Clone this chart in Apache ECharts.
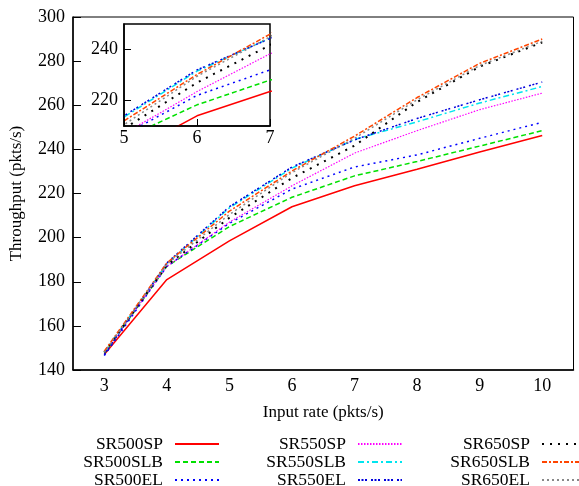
<!DOCTYPE html>
<html>
<head>
<meta charset="utf-8">
<script src="https://cdn.jsdelivr.net/npm/echarts@6/dist/echarts.min.js"></script>
<style>
  html, body { margin: 0; padding: 0; background: #fff; }
  #chart { width: 579px; height: 486px; }
</style>
</head>
<body>
<div id="chart"></div>
<script>
// input rate (pkts/s)
const inputRates = [3, 4, 5, 6, 7, 8, 9, 10]

// throughput (pkts/s)
const sr500sp  = [147, 181, 198.5, 214, 223.5, 231, 238.8, 246.3]
const sr500slb = [147.5, 187, 205, 218.3, 228, 234.5, 241.5, 248.5]
const sr500el  = [146.5, 187, 206.5, 222, 232, 237.5, 245, 252.3]
const sr550sp  = [147.5, 187, 207, 223.5, 238.3, 248.5, 258, 265.5]
const sr550slb = [148, 188, 213.5, 231.5, 244.5, 252.5, 261, 268.5]
const sr550el  = [147, 188.5, 214, 232, 244.3, 254, 262.5, 270.5]
const sr650sp  = [148, 187.5, 209, 227, 241.7, 261.5, 277.5, 288.5]
const sr650slb = [148.5, 188.5, 212, 230.2, 246, 263.5, 279, 290]
const sr650el  = [148, 188, 210.5, 229.5, 245, 262.5, 278, 289]

const insetYTicks = [220, 240]

const FONT = 'Liberation Serif'

const lines = [
  { name: 'SR500SP', data: sr500sp, color: '#ff0000', type: 'solid', width: 1.5 },
  { name: 'SR500SLB', data: sr500slb, color: '#00e000', type: [5, 3], width: 1.5 },
  { name: 'SR500EL', data: sr500el, color: '#0000ff', type: [2, 4], width: 1.5 },
  { name: 'SR550SP', data: sr550sp, color: '#ff00ff', type: [1.5, 1.5], width: 1.2 },
  { name: 'SR550SLB', data: sr550slb, color: '#00e5ee', type: [6, 3, 2, 3], width: 1.5 },
  { name: 'SR550EL', data: sr550el, color: '#0000dd', type: [2, 1.5, 2, 1.5, 2, 4], width: 1.5 },
  { name: 'SR650SP', data: sr650sp, color: '#000000', type: [2, 6], width: 2 },
  { name: 'SR650SLB', data: sr650slb, color: '#ff4500', type: [5, 2, 2, 2], width: 1.5 },
  { name: 'SR650EL', data: sr650el, color: '#888888', type: [2, 3], width: 1.5 },
]

const chart = echarts.init(document.getElementById('chart'))

const series = []
lines.forEach(l => {
  const base = {
    name: l.name,
    type: 'line',
    symbol: 'none',
    itemStyle: { color: l.color },
    lineStyle: { color: l.color, type: l.type, width: l.width },
    animation: false,
  }
  series.push({ ...base, xAxisIndex: 0, yAxisIndex: 0, data: l.data, z: 2 })
  series.push({
    ...base,
    xAxisIndex: 1,
    yAxisIndex: 1,
    data: inputRates.map((x, i) => [x, l.data[i]]),
    z: 6,
  })
})

// legend: 3 columns, text right aligned with line sample to its right
const colRight = [359, 176, -8]
const rowTop = [435, 453, 471]
const legends = lines.map((l, i) => ({
  data: [l.name],
  align: 'right',
  right: colRight[Math.floor(i / 3)],
  top: rowTop[i % 3],
  padding: 0,
  itemWidth: 44,
  itemHeight: 16,
  itemStyle: { opacity: 0 },
  textStyle: { fontFamily: FONT, fontSize: 17.5, color: '#000', padding: [0, 7, 0, 0] },
}))

chart.setOption({
  backgroundColor: '#fff',
  textStyle: { fontFamily: FONT },
  legend: legends,
  grid: [
    { left: 70, right: 5.5, top: 17, bottom: 116, show: true, borderColor: '#000', borderWidth: 1 },
    {
      left: 124, top: 24, width: 146, height: 102, show: true,
      backgroundColor: '#fff', borderColor: '#000', borderWidth: 1.5, z: 5,
    },
  ],
  xAxis: [
    {
      type: 'category',
      data: inputRates.map(String),
      gridIndex: 0,
      boundaryGap: true,
      name: 'Input rate (pkts/s)',
      nameLocation: 'middle',
      nameGap: 34,
      nameTextStyle: { fontFamily: FONT, fontSize: 17, color: '#000' },
      axisLine: { lineStyle: { color: '#000', width: 1.5 } },
      axisTick: { inside: true, length: 8, alignWithLabel: true, lineStyle: { color: '#777' } },
      axisLabel: { fontFamily: FONT, fontSize: 18, color: '#000', margin: 7 },
      splitLine: { show: false },
    },
    {
      type: 'value',
      gridIndex: 1,
      min: 5,
      max: 7,
      interval: 1,
      z: 7,
      axisLine: { lineStyle: { color: '#000', width: 1.5 } },
      axisTick: { inside: true, length: 7, lineStyle: { color: '#000' } },
      axisLabel: { fontFamily: FONT, fontSize: 18, color: '#000', margin: 3 },
      splitLine: { show: false },
    },
  ],
  yAxis: [
    {
      type: 'value',
      gridIndex: 0,
      min: 140,
      max: 300,
      interval: 20,
      name: 'Throughput (pkts/s)',
      nameLocation: 'middle',
      nameGap: 48,
      nameTextStyle: { fontFamily: FONT, fontSize: 17, color: '#000' },
      axisLine: { show: true, lineStyle: { color: '#000', width: 1.5 } },
      axisTick: { show: true, inside: true, length: 8, lineStyle: { color: '#000' } },
      axisLabel: { fontFamily: FONT, fontSize: 18, color: '#000', margin: 8 },
      splitLine: { show: false },
    },
    {
      type: 'value',
      gridIndex: 1,
      min: 210,
      max: 250,
      z: 7,
      axisLine: { show: true, lineStyle: { color: '#000', width: 1.5 } },
      axisTick: { show: true, inside: true, length: 7, customValues: insetYTicks, lineStyle: { color: '#000' } },
      axisLabel: { fontFamily: FONT, fontSize: 18, color: '#000', margin: 6, customValues: insetYTicks },
      splitLine: { show: false },
    },
  ],
  series,
})
</script>
</body>
</html>
